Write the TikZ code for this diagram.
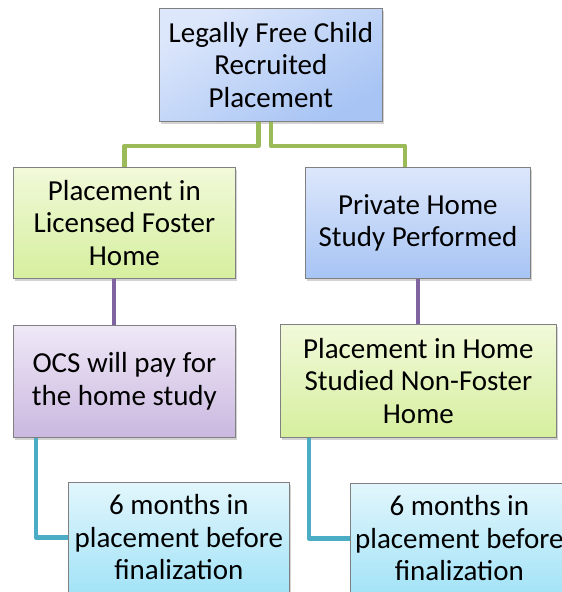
\documentclass[tikz,border=0pt]{standalone}
\usepackage{fontspec}
\setmainfont{Carlito}
\usetikzlibrary{shadows}
\definecolor{blueA}{HTML}{DDE7FB}
\definecolor{blueB}{HTML}{A7C4F4}
\definecolor{greenA}{HTML}{F1F9DA}
\definecolor{greenB}{HTML}{D6EF9E}
\definecolor{purpA}{HTML}{EFE8F6}
\definecolor{purpB}{HTML}{CAB8E0}
\definecolor{cyanA}{HTML}{E2F6FC}
\definecolor{cyanB}{HTML}{A3E3F7}
\definecolor{lineG}{HTML}{9BBB59}
\definecolor{lineP}{HTML}{8064A2}
\definecolor{lineT}{HTML}{4BACC6}
\tikzset{
  box/.style={draw=black!50, line width=0.8pt, rectangle, anchor=north west,
    align=center, inner sep=2pt,
    font=\fontsize{29}{32.5}\selectfont,
    drop shadow={shadow xshift=2pt, shadow yshift=-3pt, opacity=0.35}},
  bluebox/.style={box, top color=blueA, bottom color=blueB},
  topbox/.style={box, top color=blueA, bottom color=blueB, shading angle=30},
  greenbox/.style={box, top color=greenA, bottom color=greenB},
  purplebox/.style={box, top color=purpA, bottom color=purpB},
  cyanbox/.style={box, top color=cyanA, bottom color=cyanB},
  link/.style={line width=4.5pt, line join=round},
}
\begin{document}
\begin{tikzpicture}[x=1pt,y=1pt]
\useasboundingbox (0,0) rectangle (562,-592);
\clip (0,0) rectangle (562,-592);

% boxes
\node[topbox, minimum width=223pt, minimum height=113pt] (top) at (159,-8)
  {Legally Free Child\\Recruited\\Placement};
\node[greenbox, minimum width=222pt, minimum height=111pt] (l1) at (13,-167)
  {Placement in\\Licensed Foster\\Home};
\node[bluebox, minimum width=225pt, minimum height=111pt] (r1) at (305,-167)
  {Private Home\\Study Performed};
\node[purplebox, minimum width=222pt, minimum height=112pt] (l2) at (13,-325)
  {OCS will pay for\\the home study};
\node[greenbox, minimum width=276pt, minimum height=113pt] (r2) at (280,-324)
  {Placement in Home\\Studied Non-Foster\\Home};
\node[cyanbox, minimum width=221pt, minimum height=110pt] (l3) at (68,-482)
  {6 months in\\placement before\\finalization};
\node[cyanbox, minimum width=218pt, minimum height=110pt] (r3) at (350,-483)
  {6 months in\\placement before\\finalization};

% connectors between boxes
\draw[link, lineG] ([xshift=-12.5pt]top.south) -- ++(0,-24) -| (l1.north);
\draw[link, lineG] (top.south) -- ++(0,-24) -| ([xshift=-13pt]r1.north);
\draw[link, lineP] ([xshift=-10.5pt]l1.south) -- ([xshift=-10.5pt]l1.south |- l2.north);
\draw[link, lineP] (r1.south) -- (r1.south |- r2.north);
\draw[link, lineT] ([xshift=23pt]l2.south west) |- (l3.west);
\draw[link, lineT] ([xshift=29pt]r2.south west) |- (r3.west);
\end{tikzpicture}
\end{document}
